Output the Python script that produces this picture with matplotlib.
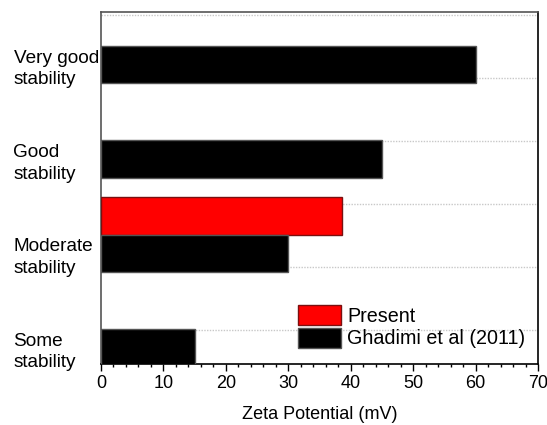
import numpy as np
import matplotlib
matplotlib.use("Agg")
import matplotlib.pyplot as plt

plt.rcParams['font.family'] = ['Liberation Sans', 'DejaVu Sans']

categories = ['Some\nstability', 'Moderate\nstability', 'Good\nstability', 'Very good\nstability']
ghadimi = [15, 30, 45, 60]
present = [np.nan, 38.6, np.nan, np.nan]

# bar layout (category units)
y = np.arange(len(categories))
h = 0.4
grid_y = 0.19 + np.arange(6) * 2 / 3

fig = plt.figure(figsize=(5.47, 4.25), dpi=100)
ax = fig.add_axes([101 / 547, 1 - 364 / 425, 437 / 547, 352 / 425])

ax.barh(y + h, present, height=h, color='red', edgecolor='#7a1010', linewidth=1,
        label='Present', zorder=3)
ax.barh(y, ghadimi, height=h, color='black', edgecolor='#555555', linewidth=1,
        label='Ghadimi et al (2011)', zorder=3)

ax.set_xlim(0, 70)
ax.set_ylim(-0.17, 3.556)
ax.set_xticks(np.arange(0, 71, 10))
ax.set_xticks(np.arange(0, 71, 2), minor=True)
ax.tick_params(axis='x', which='major', length=5, width=1, labelsize=13, pad=3)
ax.tick_params(axis='x', which='minor', length=2.5, width=1)

ax.set_yticks(y)
ax.set_yticklabels(categories, fontsize=13.7, linespacing=1.35)
ax.set_yticks(grid_y, minor=True)
ax.tick_params(axis='y', which='both', length=0, pad=63)
for lab in ax.get_yticklabels():
    lab.set_horizontalalignment('left')

ax.grid(axis='y', which='minor', linestyle=(0, (1, 1)), color='#c8c8c8', linewidth=1, zorder=0)
ax.grid(axis='y', which='major', visible=False)

for side in ['left', 'top']:
    ax.spines[side].set_color('#555555')
for side in ['right', 'bottom']:
    ax.spines[side].set_color('black')
for s in ax.spines.values():
    s.set_linewidth(1.2)

ax.set_xlabel('Zeta Potential (mV)', fontsize=13, labelpad=10)

ax.legend(loc='upper left', bbox_to_anchor=(298 / 547, 1 - 305 / 425),
          bbox_transform=fig.transFigure, frameon=False, fontsize=14.2,
          handlelength=2.2, handleheight=1.2, handletextpad=0.3,
          labelspacing=0.1, borderpad=0, borderaxespad=0)

fig.savefig('out.png', dpi=100)
